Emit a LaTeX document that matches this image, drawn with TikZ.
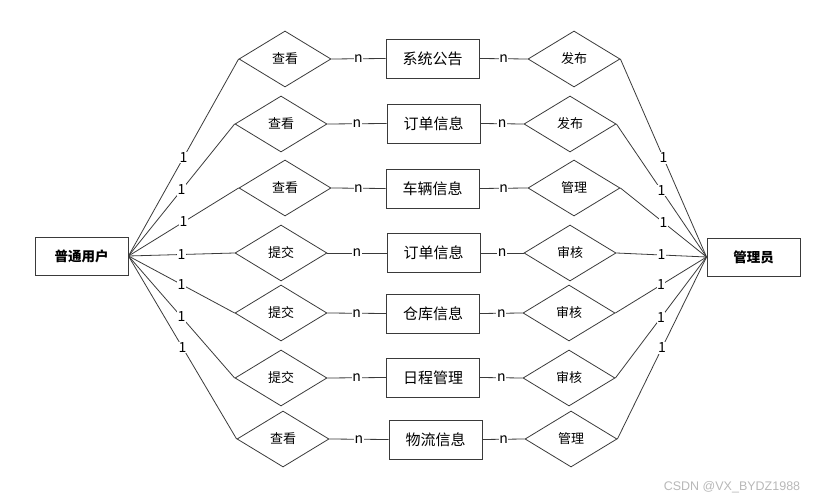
\documentclass[tikz,border=0pt]{standalone}
\usepackage{fontspec}
\setmainfont{Noto Sans CJK SC}
\newfontfamily\wmfont{Liberation Sans}
\usetikzlibrary{shapes.geometric}
\definecolor{linegray}{HTML}{3a3a3a}
\begin{document}
\begin{tikzpicture}[x=1pt,y=-1pt,
  entitybox/.style={draw=linegray,line width=0.9pt,minimum width=93pt,minimum height=39pt,inner sep=0pt,font=\fontsize{15}{17}\selectfont},
  mainbox/.style={draw=linegray,line width=0.9pt,minimum width=93pt,minimum height=38pt,inner sep=0pt,font=\fontsize{13.5}{15}\selectfont\bfseries},
  relshape/.style={draw=linegray,line width=0.8pt,diamond,minimum width=92pt,minimum height=56pt,inner sep=0pt,aspect=1.64,font=\fontsize{13}{15}\selectfont},
  conn/.style={draw=linegray,line width=0.8pt},
  card/.style={fill=white,inner sep=0.6pt,font=\fontsize{14}{15}\selectfont}
]
\useasboundingbox (0,0) rectangle (826,502);
\node[mainbox] (u) at (81.5,256) {普通用户};
\node[mainbox] (a) at (753.5,257) {管理员};
% left relations
\node[relshape] (l1) at (285,59) {查看};
\node[relshape] (l2) at (281,124) {查看};
\node[relshape] (l3) at (285,188) {查看};
\node[relshape] (l4) at (281,253) {提交};
\node[relshape] (l5) at (281,313) {提交};
\node[relshape] (l6) at (281,378) {提交};
\node[relshape] (l7) at (283,439) {查看};
% entities
\node[entitybox] (e1) at (432.5,58.5) {系统公告};
\node[entitybox] (e2) at (433.5,123.5) {订单信息};
\node[entitybox] (e3) at (432.5,188.5) {车辆信息};
\node[entitybox] (e4) at (433.5,253) {订单信息};
\node[entitybox] (e5) at (433,313.5) {仓库信息};
\node[entitybox] (e6) at (433,377.5) {日程管理};
\node[entitybox] (e7) at (435.5,439.5) {物流信息};
% right relations
\node[relshape] (r1) at (574,59) {发布};
\node[relshape] (r2) at (570,124) {发布};
\node[relshape] (r3) at (574,188) {管理};
\node[relshape] (r4) at (570,253) {审核};
\node[relshape] (r5) at (569,313) {审核};
\node[relshape] (r6) at (569,378) {审核};
\node[relshape] (r7) at (571,439) {管理};
\foreach \i in {1,...,7}{
  \draw[conn] (u.east) -- (l\i.west) node[midway,card]{1};
  \draw[conn] (l\i.east) -- (e\i.west) node[midway,card]{n};
  \draw[conn] (e\i.east) -- (r\i.west) node[midway,card]{n};
  \draw[conn] (a.west) -- (r\i.east) node[midway,card]{1};
}
\node[font=\wmfont\fontsize{12.5}{14}\selectfont,text=black!28] (wm) at (732,487) {CSDN @VX\_BYDZ1988};
\end{tikzpicture}
\end{document}
